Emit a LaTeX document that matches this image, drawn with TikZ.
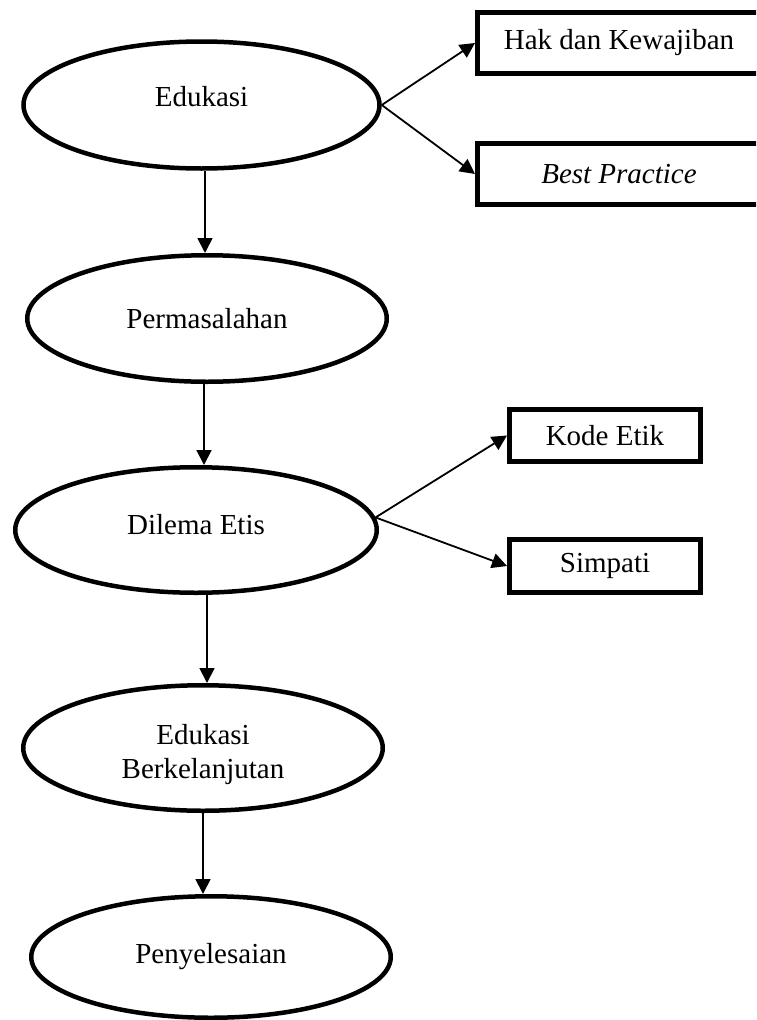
\documentclass[tikz,border=0pt]{standalone}
\usepackage{fontspec}
\setmainfont{Liberation Serif}
\usetikzlibrary{shapes.geometric,arrows.meta}
\begin{document}
\begin{tikzpicture}[x=1pt,y=-1pt,
  every node/.style={font=\fontsize{29}{34}\selectfont, align=center, inner sep=0pt},
  oval/.style={ellipse, draw, line width=4.5pt},
  box/.style={rectangle, draw, line width=5pt},
  arr/.style={-{Triangle[length=15pt,width=15pt]}, line width=1.8pt}]
\useasboundingbox (0,0) rectangle (756,1020);
\clip (0,0) rectangle (756,1020);

% main flow (ellipses, text set as centred labels)
\node[oval, minimum width=356pt, minimum height=127pt,
      label={[name=t1, yshift=8pt]center:Edukasi}] (e1) at (201.5,105) {};
\node[oval, minimum width=359.5pt, minimum height=126.5pt,
      label={[name=t2]center:Permasalahan}] (e2) at (207,318.5) {};
\node[oval, minimum width=361.5pt, minimum height=125.5pt,
      label={[name=t3, yshift=5pt]center:Dilema Etis}] (e3) at (196,530) {};
\node[oval, minimum width=359.5pt, minimum height=125.5pt,
      label={[name=t4, yshift=-7pt, align=center]center:Edukasi\\Berkelanjutan}] (e4) at (203,748) {};
\node[oval, minimum width=359.5pt, minimum height=121.5pt,
      label={[name=t5]center:Penyelesaian}] (e5) at (211,957) {};

% side boxes
\node[box, minimum width=283pt, minimum height=61pt] (b1) at (619,43) {Hak dan Kewajiban};
\node[box, minimum width=283pt, minimum height=61pt] (b2) at (619,174) {\itshape Best Practice};
\node[box, minimum width=191pt, minimum height=52pt] (k) at (605,435.5) {Kode Etik};
\node[box, minimum width=191pt, minimum height=53pt] (s) at (605,566) {Simpati};

% vertical connectors
\draw[arr] ([xshift=3.5pt]e1.south) -- ([xshift=3.5pt]e1.south |- e2.north);
\draw[arr] ([xshift=-3pt]e2.south) -- ([xshift=-3pt]e2.south |- e3.north);
\draw[arr] ([xshift=11pt]e3.south) -- ([xshift=11pt]e3.south |- e4.north);
\draw[arr] (e4.south) -- (e4.south |- e5.north);

% branches
\draw[arr] (e1.east) -- (b1.west);
\draw[arr] (e1.east) -- (b2.west);
\draw[arr] (e3.4) -- (k.west);
\draw[arr] (e3.4) -- (s.west);
\end{tikzpicture}
\end{document}
